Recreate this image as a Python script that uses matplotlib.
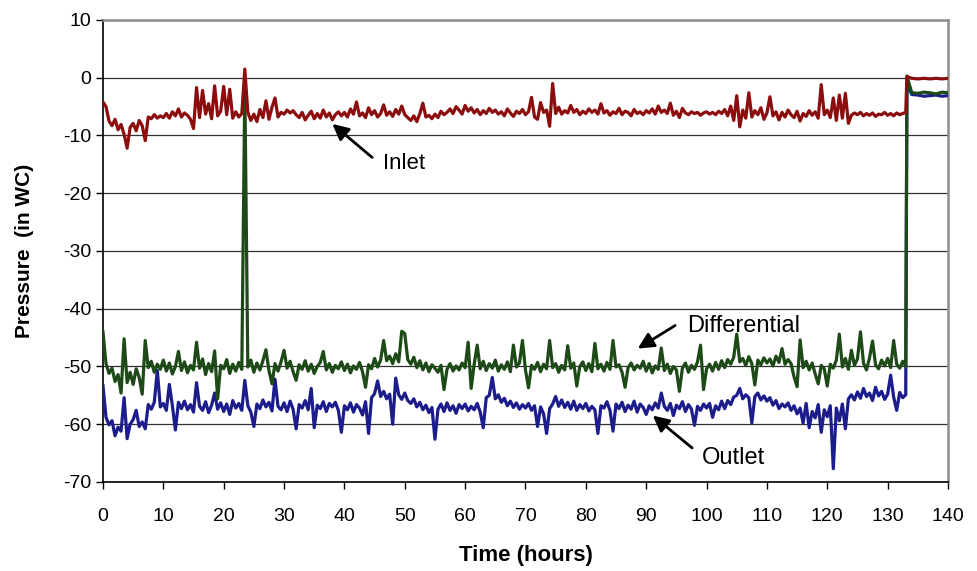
import numpy as np
import matplotlib.pyplot as plt

# readings every half hour, 0 .. 133 h
inlet = [
    -4.2, -5.0, -7.5, -8.3, -7.2, -9.0, -8.1, -9.8, -12.2, -8.6, -7.9, -9.2, -7.4, -8.3, -10.9, -6.8, -7.1, -6.4, -7.0, -6.6,
    -6.9, -6.2, -7.0, -5.9, -6.6, -5.4, -6.8, -6.1, -6.5, -7.2, -8.8, -1.7, -6.9, -2.2, -6.3, -4.5, -7.1, -1.4, -6.6, -5.8,
    -1.5, -6.4, -2.0, -7.0, -5.9, -6.8, -6.2, 1.5, -6.0, -7.4, -6.3, -7.6, -5.5, -6.9, -4.0, -7.2, -5.1, -3.5, -6.8, -6.0,
    -6.3, -5.6, -6.1, -5.7, -6.4, -6.9, -6.0, -7.3, -6.5, -5.8, -7.1, -6.2, -7.0, -5.6, -6.8, -6.1, -7.3, -6.4, -5.9, -6.6,
    -6.0, -6.8, -5.4, -6.3, -4.2, -6.6, -6.1, -6.9, -5.2, -6.4, -5.7, -6.8, -6.2, -4.7, -6.5, -5.9, -6.7, -5.5, -6.3, -4.9,
    -6.4, -6.9, -7.4, -6.6, -7.6, -6.2, -4.4, -6.8, -6.5, -7.1, -6.3, -6.9, -5.8, -6.4, -6.0, -5.4, -6.2, -5.0, -5.6, -6.3,
    -4.8, -5.8, -5.2, -6.1, -5.5, -6.4, -5.7, -6.2, -5.3, -6.0, -5.6, -6.3, -5.9, -6.6, -5.4, -6.1, -6.7, -5.8, -6.2, -5.5,
    -6.4, -5.9, -3.4, -6.8, -7.2, -4.3, -6.0, -5.6, -8.4, -1.0, -6.2, -5.1, -6.3, -5.7, -6.1, -4.8, -6.0, -5.5, -6.4, -5.8,
    -6.2, -5.4, -6.0, -5.6, -6.3, -4.5, -6.1, -5.7, -6.5, -5.9, -6.2, -5.3, -6.4, -5.8, -6.0, -6.6, -5.5, -6.2, -5.9, -6.4,
    -5.7, -6.1, -5.4, -6.3, -4.9, -6.0, -5.6, -6.2, -4.4, -6.5, -5.8, -6.9, -5.3, -6.1, -6.4, -5.9, -6.2, -6.0, -6.5, -6.1,
    -5.9, -6.3, -6.0, -6.4, -5.8, -6.2, -5.5, -6.6, -4.9, -7.4, -3.1, -8.5, -5.6, -7.0, -2.6, -6.8, -5.7, -6.4, -5.2, -7.2,
    -6.1, -3.3, -6.6, -5.9, -7.3, -6.0, -6.8, -5.6, -6.4, -6.9, -5.8, -7.5, -6.2, -6.7, -5.7, -6.5, -5.9, -7.0, -1.2, -6.4,
    -5.6, -6.9, -3.5, -7.4, -3.0, -7.0, -2.7, -7.9, -6.5, -6.1, -6.4, -6.0, -6.6, -6.2, -6.5, -6.1, -6.7, -6.3, -6.4, -6.0,
    -6.5, -6.2, -6.6, -6.1, -6.4, -6.2, -6.0,
]

differential = [
    -44.0, -49.5, -51.2, -50.3, -52.6, -51.4, -54.6, -45.2, -52.8, -51.0, -53.1, -50.4, -51.9, -54.8, -45.5, -50.2, -49.1, -51.0, -49.6, -50.5,
    -48.9, -50.8, -49.4, -51.3, -50.0, -47.4, -50.7, -49.2, -51.1, -49.8, -50.6, -45.8, -50.3, -48.7, -51.4, -49.5, -50.9, -47.3, -55.6, -49.8,
    -50.4, -48.8, -51.2, -49.6, -50.8, -49.3, -50.5, -1.4, -50.1, -48.9, -51.0, -49.4, -50.6, -49.0, -47.1, -50.7, -53.0, -49.5, -50.8, -49.2,
    -47.2, -50.3, -49.1, -50.9, -52.4, -49.7, -50.5, -49.0, -50.8, -49.6, -51.2, -50.0, -49.3, -47.4, -50.6, -49.5, -51.0, -49.8, -50.4, -49.2,
    -50.7, -49.6, -51.1, -49.9, -50.5, -49.3, -50.9, -53.6, -49.7, -50.4, -48.6, -50.1, -48.9, -45.5, -49.0, -48.2, -49.5, -47.8, -49.2, -43.9,
    -44.3, -48.8, -49.6, -48.4, -50.2, -49.0, -50.6, -49.4, -50.9, -49.7, -50.3, -51.0, -49.8, -54.0, -50.5, -49.5, -50.8, -49.9, -50.6, -49.4,
    -50.2, -45.8, -53.8, -49.6, -46.3, -50.4, -49.1, -50.7, -49.5, -50.3, -48.9, -50.8, -49.7, -50.5, -49.2, -50.9, -46.3, -50.1, -49.4, -45.5,
    -50.6, -53.7, -49.8, -50.5, -49.3, -50.9, -49.6, -50.4, -45.5, -50.2, -49.5, -51.0, -49.8, -50.6, -46.4, -50.3, -49.4, -53.4, -50.0, -49.2,
    -50.7, -49.5, -50.9, -46.0, -50.4, -49.6, -50.8, -49.3, -50.5, -45.5, -50.1, -49.7, -51.0, -53.6, -50.2, -49.4, -50.6, -49.8, -50.3, -49.1,
    -50.8, -49.5, -51.1, -49.9, -50.5, -46.8, -50.7, -49.6, -51.2, -50.0, -50.6, -54.3, -50.3, -49.4, -51.0, -49.8, -50.5, -49.2, -46.3, -54.0,
    -50.4, -49.6, -50.8, -49.3, -50.5, -49.0, -50.2, -48.8, -49.6, -48.4, -44.4, -49.2, -48.6, -49.8, -48.3, -49.5, -53.2, -48.9, -49.7, -48.5,
    -49.4, -48.7, -49.9, -48.2, -49.3, -46.9, -49.6, -48.8, -49.5, -51.8, -53.5, -45.4, -50.2, -49.1, -50.6, -49.4, -51.3, -53.0, -49.8, -50.4,
    -53.4, -49.6, -50.3, -48.9, -44.4, -50.1, -48.6, -50.5, -47.2, -49.8, -48.7, -44.0, -49.4, -50.6, -48.5, -45.6, -49.7, -50.4, -48.9, -49.9,
    -48.6, -50.2, -45.5, -49.6, -50.3, -49.1, -50.0,
]

outlet = [
    -53.3, -58.8, -60.1, -59.4, -62.0, -60.5, -61.2, -55.4, -62.5, -60.0, -59.2, -57.6, -60.4, -59.6, -60.8, -56.6, -57.4, -56.2, -50.7, -57.0,
    -56.4, -57.6, -53.1, -56.8, -61.0, -56.2, -57.3, -56.0, -57.5, -56.6, -57.9, -52.8, -56.9, -57.6, -56.1, -58.0, -56.7, -54.6, -57.4, -56.3,
    -57.8, -56.5, -58.3, -55.9, -57.2, -56.4, -57.6, -52.4, -56.8, -57.9, -60.4, -56.5, -57.3, -55.8, -57.0, -56.2, -57.7, -52.2, -56.9, -57.5,
    -56.3, -57.8, -56.0, -57.4, -60.8, -56.6, -57.2, -55.9, -57.5, -53.8, -60.6, -56.7, -57.3, -56.1, -57.8, -56.4, -57.0, -56.2, -57.6, -61.4,
    -56.8, -57.5, -56.3, -57.9, -56.6, -57.2, -58.4, -56.1, -61.6, -55.4, -54.7, -52.5, -55.2, -54.3, -55.6, -54.8, -60.0, -52.0, -54.9, -55.7,
    -54.6, -55.9, -56.4, -55.6, -57.0, -56.2, -57.5, -56.7, -58.0, -57.1, -62.6, -57.4, -56.5, -57.8, -56.3, -57.6, -56.8, -58.1, -56.6, -57.3,
    -56.5, -57.7, -56.9, -57.5, -56.4, -57.9, -60.6, -55.4, -55.0, -51.9, -55.6, -54.9, -56.2, -55.5, -56.8, -56.0, -57.1, -56.3, -57.4, -56.6,
    -57.2, -56.4, -57.6, -56.8, -60.4, -57.0, -58.2, -61.6, -57.3, -56.5, -55.2, -56.9, -55.8, -57.1, -56.2, -57.4, -56.0, -57.6, -56.6, -57.3,
    -56.4, -57.7, -56.9, -57.5, -61.6, -56.8, -57.2, -56.1, -57.6, -61.2, -56.5, -57.3, -56.2, -57.8, -56.7, -57.4, -56.0, -57.9, -56.5, -57.1,
    -58.3, -56.8, -57.5, -56.3, -57.2, -54.6, -56.9, -57.6, -56.4, -58.5, -56.7, -57.3, -56.1, -57.8, -56.6, -57.4, -60.2, -56.9, -57.6, -56.5,
    -57.2, -56.4, -58.8, -56.8, -57.5, -56.0, -57.3, -55.9, -56.6, -55.3, -55.0, -53.8, -55.6, -54.9, -55.4, -59.8, -55.2, -54.6, -55.8, -55.1,
    -56.0, -55.4, -56.7, -55.9, -57.3, -56.5, -57.0, -56.3, -57.6, -56.8, -58.2, -57.2, -59.8, -56.4, -60.6, -57.8, -58.9, -56.6, -61.4, -57.5,
    -58.7, -56.8, -67.7, -57.2, -59.4, -56.5, -60.8, -55.6, -54.9, -55.8, -54.4, -55.5, -53.8, -55.2, -54.6, -55.9, -53.6, -55.1, -54.3, -55.7,
    -54.8, -51.5, -55.3, -57.6, -54.5, -55.4, -54.9,
]

# after the valve change at ~133 h
tail_time = [133.2, 134, 135, 136, 137, 138, 139, 140]
inlet_tail = [0.2, -0.1, -0.2, -0.1, -0.2, -0.1, -0.2, -0.1]
diff_tail = [0.3, -2.6, -2.7, -2.5, -2.6, -2.8, -2.5, -2.6]
outlet_tail = [-1.0, -2.9, -3.0, -3.2, -3.1, -3.0, -3.2, -3.1]

t = np.arange(len(inlet)) * 0.5
time = np.concatenate([t, tail_time])

plt.rcParams['font.family'] = ['Liberation Sans', 'DejaVu Sans']
plt.rcParams['axes.unicode_minus'] = False

fig = plt.figure(figsize=(9.77, 5.71), dpi=100)
ax = fig.add_axes([0.1054, 0.1559, 0.8649, 0.8091])

ax.plot(time, outlet + outlet_tail, color='#1c1c8c', lw=2.3, zorder=3)
ax.plot(time, differential + diff_tail, color='#1d4a17', lw=2.3, zorder=4)
ax.plot(time, inlet + inlet_tail, color='#8c0d0d', lw=2.3, zorder=5)

ax.set_xlim(0, 140)
ax.set_ylim(-70, 10)
ax.set_xticks(np.arange(0, 141, 10))
ax.set_yticks(np.arange(-70, 11, 10))
ax.yaxis.grid(True, color='#303030', lw=0.9)
ax.set_axisbelow(True)
ax.tick_params(direction='out', length=5, width=1, labelsize=14, colors='black')
ax.tick_params(axis='x', pad=14)
for s in ['top', 'right']:
    ax.spines[s].set_color('#8c8c8c')
    ax.spines[s].set_linewidth(1.8)
for s in ['left', 'bottom']:
    ax.spines[s].set_linewidth(1.2)

ax.set_xlabel('Time (hours)', fontsize=16, fontweight='bold', labelpad=14)
ax.set_ylabel('Pressure  (in WC)', fontsize=15, fontweight='bold', labelpad=21)

arrow = dict(arrowstyle='-|>', color='black', lw=2, mutation_scale=24,
             shrinkA=0, shrinkB=0)
ax.annotate('', xy=(38.0, -8.0), xytext=(44.6, -13.8), arrowprops=arrow)
ax.text(46.4, -14.9, 'Inlet', fontsize=16, va='center', ha='left')
ax.annotate('', xy=(88.6, -46.9), xytext=(94.8, -42.9), arrowprops=arrow)
ax.text(96.8, -43.0, 'Differential', fontsize=17, va='center', ha='left')
ax.annotate('', xy=(91.1, -58.5), xytext=(97.6, -64.1), arrowprops=arrow)
ax.text(99.2, -65.8, 'Outlet', fontsize=17, va='center', ha='left')

fig.savefig('out.png', dpi=100)
